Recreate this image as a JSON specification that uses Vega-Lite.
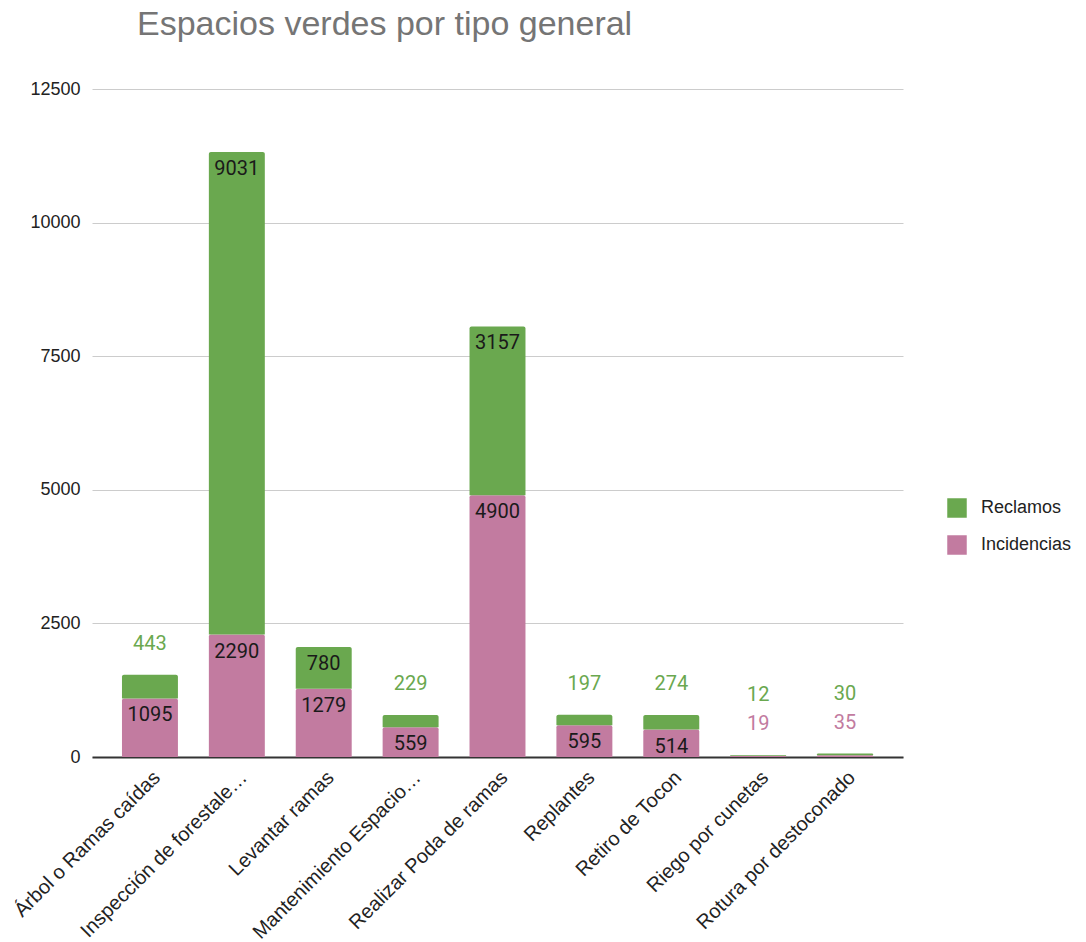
{
  "$schema": "https://vega.github.io/schema/vega-lite/v6.json",
  "width": 811,
  "height": 668,
  "autosize": {"type": "none"},
  "padding": {"left": 92, "top": 89, "right": 183, "bottom": 185},
  "background": "white",
  "title": {
    "text": "Espacios verdes por tipo general",
    "anchor": "start",
    "frame": "group",
    "dx": 45,
    "offset": 38,
    "font": "Liberation Sans",
    "fontSize": 34,
    "fontWeight": "normal",
    "color": "#757575"
  },
  "config": {
    "view": {"stroke": null},
    "font": "Liberation Sans"
  },
  "data": {
    "values": [
      {"cat": "Árbol o Ramas caídas", "series": "Incidencias", "value": 1095},
      {"cat": "Árbol o Ramas caídas", "series": "Reclamos", "value": 443},
      {"cat": "Inspección de forestale…", "series": "Incidencias", "value": 2290},
      {"cat": "Inspección de forestale…", "series": "Reclamos", "value": 9031},
      {"cat": "Levantar ramas", "series": "Incidencias", "value": 1279},
      {"cat": "Levantar ramas", "series": "Reclamos", "value": 780},
      {"cat": "Mantenimiento Espacio…", "series": "Incidencias", "value": 559},
      {"cat": "Mantenimiento Espacio…", "series": "Reclamos", "value": 229},
      {"cat": "Realizar Poda de ramas", "series": "Incidencias", "value": 4900},
      {"cat": "Realizar Poda de ramas", "series": "Reclamos", "value": 3157},
      {"cat": "Replantes", "series": "Incidencias", "value": 595},
      {"cat": "Replantes", "series": "Reclamos", "value": 197},
      {"cat": "Retiro de Tocon", "series": "Incidencias", "value": 514},
      {"cat": "Retiro de Tocon", "series": "Reclamos", "value": 274},
      {"cat": "Riego por cunetas", "series": "Incidencias", "value": 19},
      {"cat": "Riego por cunetas", "series": "Reclamos", "value": 12},
      {"cat": "Rotura por destoconado", "series": "Incidencias", "value": 35},
      {"cat": "Rotura por destoconado", "series": "Reclamos", "value": 30}
    ]
  },
  "transform": [
    {"stack": "value", "groupby": ["cat"], "sort": [{"field": "series", "order": "ascending"}], "as": ["v0", "v1"]},
    {"joinaggregate": [{"op": "sum", "field": "value", "as": "total"}], "groupby": ["cat"]}
  ],
  "encoding": {
    "x": {
      "field": "cat",
      "type": "nominal",
      "sort": null,
      "title": null,
      "scale": {"paddingInner": 0.356, "paddingOuter": 0.345},
      "axis": {
        "labelAngle": -45,
        "labelAlign": "right",
        "labelBaseline": "top",
        "labelFont": "Liberation Sans",
        "labelFontSize": 20,
        "labelColor": "#222222",
        "labelPadding": 10,
        "labelLimit": 300,
        "ticks": false,
        "domainColor": "#333333",
        "domainWidth": 2
      }
    }
  },
  "layer": [
    {
      "mark": {"type": "bar", "cornerRadiusTopLeft": 2, "cornerRadiusTopRight": 2},
      "encoding": {
        "y": {
          "field": "v1",
          "type": "quantitative",
          "title": null,
          "scale": {"domain": [0, 12500], "nice": false},
          "axis": {
            "values": [0, 2500, 5000, 7500, 10000, 12500],
            "format": "d",
            "labelFont": "Liberation Sans",
            "labelFontSize": 18,
            "labelColor": "#222222",
            "labelPadding": 12,
            "ticks": false,
            "domain": false,
            "gridColor": "#cccccc",
            "gridWidth": 1
          }
        },
        "y2": {"field": "v0"},
        "color": {
          "field": "series",
          "type": "nominal",
          "scale": {"domain": ["Reclamos", "Incidencias"], "range": ["#6aa84f", "#c27ba0"]},
          "legend": {
            "title": null,
            "orient": "none",
            "legendX": 855,
            "legendY": 409,
            "symbolType": "square",
            "symbolSize": 380,
            "symbolStrokeWidth": 0,
            "labelFont": "Liberation Sans",
            "labelFontSize": 18,
            "labelColor": "#222222",
            "labelOffset": 14,
            "rowPadding": 17
          }
        }
      }
    },
    {
      "transform": [{"filter": "datum.value >= 480"}],
      "mark": {"type": "text", "baseline": "middle", "dy": 17, "font": "Roboto", "fontSize": 20, "color": "#1a1a1a"},
      "encoding": {
        "y": {"field": "v1", "type": "quantitative"},
        "text": {"field": "value", "type": "quantitative", "format": "d"}
      }
    },
    {
      "transform": [
        {"filter": "datum.value < 480"},
        {"window": [{"op": "row_number", "as": "rank"}], "groupby": ["cat"], "sort": [{"field": "series", "order": "ascending"}]},
        {"filter": "datum.rank == 1"}
      ],
      "mark": {"type": "text", "baseline": "middle", "dy": -31, "font": "Roboto", "fontSize": 20},
      "encoding": {
        "y": {"field": "total", "type": "quantitative"},
        "text": {"field": "value", "type": "quantitative", "format": "d"},
        "color": {"field": "series", "type": "nominal", "legend": null}
      }
    },
    {
      "transform": [
        {"filter": "datum.value < 480"},
        {"window": [{"op": "row_number", "as": "rank"}], "groupby": ["cat"], "sort": [{"field": "series", "order": "ascending"}]},
        {"filter": "datum.rank == 2"}
      ],
      "mark": {"type": "text", "baseline": "middle", "dy": -60, "font": "Roboto", "fontSize": 20},
      "encoding": {
        "y": {"field": "total", "type": "quantitative"},
        "text": {"field": "value", "type": "quantitative", "format": "d"},
        "color": {"field": "series", "type": "nominal", "legend": null}
      }
    }
  ]
}
